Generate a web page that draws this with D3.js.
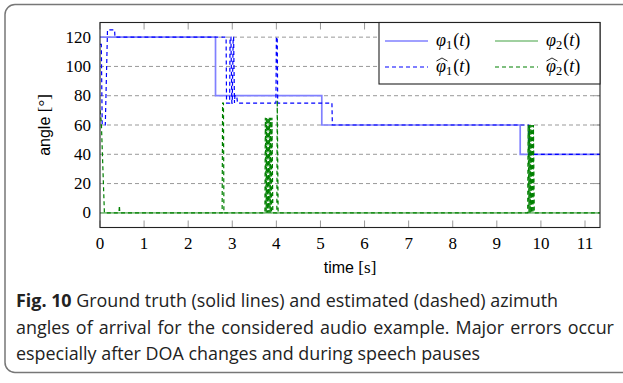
<!DOCTYPE html>
<html>
<head>
<meta charset="utf-8">
<script src="https://cdn.jsdelivr.net/npm/d3@7"></script>
<style>
  body { margin: 0; background: #fff; }
  svg { display: block; }
  .serif { font-family: 'Liberation Serif', serif; }
</style>
</head>
<body>
<svg></svg>
<script>
const timeTicks = [0, 1, 2, 3, 4, 5, 6, 7, 8, 9, 10, 11];
const angleTicks = [0, 20, 40, 60, 80, 100, 120];

// ground truth [time s, angle deg]
const phi1True = [[0, 120], [2.62, 120], [2.62, 80], [5.03, 80], [5.03, 60], [9.53, 60], [9.53, 40], [11.34, 40]];
const phi2True = [[0, 0], [11.34, 0]];

// estimates
const phi1Est = [[0, 115], [0.03, 115], [0.05, 60], [0.12, 60], [0.17, 125], [0.33, 125], [0.34, 120],
  [2.86, 120], [2.87, 75], [2.94, 75], [2.95, 120], [2.97, 120], [2.99, 75], [3.0, 75], [3.02, 120],
  [3.03, 120], [3.05, 75], [3.06, 80], [3.10, 80], [3.12, 75], [3.99, 75], [4.0, 120], [4.02, 120],
  [4.03, 75], [5.26, 75], [5.27, 60], [9.72, 60], [9.73, 40], [11.34, 40]];
const phi2Est = [[0, 70], [0.03, 62], [0.1, 0], [0.43, 0], [0.44, 5], [0.45, 0],
  [2.77, 0], [2.78, 75], [2.80, 75], [2.81, 0],
  [3.74, 0], [3.75, 65], [3.77, 0], [3.78, 65], [3.80, 0], [3.81, 65], [3.83, 0], [3.84, 65],
  [3.86, 0], [3.87, 65], [3.89, 0], [3.90, 65], [3.92, 0],
  [4.01, 0], [4.02, 77], [4.04, 0],
  [9.70, 0], [9.71, 60], [9.73, 0], [9.74, 60], [9.76, 0], [9.77, 60], [9.79, 0], [9.80, 60],
  [9.82, 0], [9.83, 60], [9.85, 0], [11.34, 0]];

const captionLines = [
  ["Fig. 10", " Ground truth (solid lines) and estimated (dashed) azimuth"],
  ["", "angles of arrival for the considered audio example. Major errors occur"],
  ["", "especially after DOA changes and during speech pauses"]
];

const svgWidth = 623, svgHeight = 383;
const margin = { top: 22.5, left: 100 };
const width = 500, height = 205;

const blueLight = "#8080ff", blue = "#0000ff", greenLight = "#80c080", green = "#008000";
const serif = "'Liberation Serif', serif";
const sans = "'Liberation Sans', sans-serif";

const svg = d3.select("svg")
    .attr("width", svgWidth)
    .attr("height", svgHeight);

// figure frame
svg.append("rect")
    .attr("x", 5).attr("y", 4.5)
    .attr("width", 660).attr("height", 368)
    .attr("rx", 10)
    .attr("fill", "#fff")
    .attr("stroke", "#777")
    .attr("stroke-width", 1.5);

const g = svg.append("g")
    .attr("transform", "translate(" + margin.left + "," + margin.top + ")");

const x = d3.scaleLinear().domain([0, 11.34]).range([0, width]);
const y = d3.scaleLinear().domain([-10, 130]).range([height, 0]);

g.append("clipPath").attr("id", "clip")
  .append("rect").attr("width", width).attr("height", height);

// grid
g.append("g")
  .selectAll("line")
  .data(angleTicks)
  .join("line")
    .attr("x1", 0).attr("x2", width)
    .attr("y1", d => y(d)).attr("y2", d => y(d))
    .attr("stroke", "#999")
    .attr("stroke-dasharray", "4,3");

// ticks (inward)
const tickLen = 7;
const tickStyle = sel => sel.attr("stroke", "#999").attr("stroke-width", 1);
g.append("g").selectAll("line").data(timeTicks).join("line")
    .attr("x1", d => x(d)).attr("x2", d => x(d))
    .attr("y1", height).attr("y2", height - tickLen).call(tickStyle);
g.append("g").selectAll("line").data(timeTicks).join("line")
    .attr("x1", d => x(d)).attr("x2", d => x(d))
    .attr("y1", 0).attr("y2", tickLen).call(tickStyle);
g.append("g").selectAll("line").data(angleTicks).join("line")
    .attr("x1", width - tickLen).attr("x2", width)
    .attr("y1", d => y(d)).attr("y2", d => y(d)).call(tickStyle);

// tick labels
g.append("g").attr("class", "serif").style("font-size", "17px")
  .selectAll("text").data(timeTicks).join("text")
    .attr("class", "serif")
    .attr("x", d => x(d)).attr("y", height + 21)
    .attr("text-anchor", "middle")
    .text(d => String(d));
g.append("g").attr("class", "serif").style("font-size", "17px")
  .selectAll("text").data(angleTicks).join("text")
    .attr("class", "serif")
    .attr("x", -9).attr("y", d => y(d) + 5.5)
    .attr("text-anchor", "end")
    .text(d => String(d));

const line = d3.line()
    .x(d => x(d[0]))
    .y(d => y(d[1]));

const plot = g.append("g").attr("clip-path", "url(#clip)");
const series = [
  { data: phi1True, color: blueLight, width: 1.7, dash: null },
  { data: phi2True, color: greenLight, width: 1.7, dash: null },
  { data: phi1Est, color: blue, width: 1.2, dash: "4,3" },
  { data: phi2Est, color: green, width: 1.2, dash: "4,3" }
];
series.forEach(s => {
  plot.append("path")
      .datum(s.data)
      .attr("fill", "none")
      .attr("stroke", s.color)
      .attr("stroke-width", s.width)
      .attr("stroke-dasharray", s.dash)
      .attr("d", line);
});

// axis box
g.append("rect")
    .attr("width", width).attr("height", height)
    .attr("fill", "none").attr("stroke", "#222").attr("stroke-width", 1.1);

// axis labels
const yl = svg.append("text")
    .attr("transform", "translate(50," + (margin.top + height / 2) + ") rotate(-90)")
    .attr("text-anchor", "middle");
yl.append("tspan").style("font-family", sans).style("font-size", "16px").text("angle ");
yl.append("tspan").style("font-family", serif).style("font-size", "17px").text("[°]");

const xl = svg.append("text")
    .attr("x", margin.left + width / 2).attr("y", 273)
    .attr("text-anchor", "middle");
xl.append("tspan").style("font-family", sans).style("font-size", "16px").text("time ");
xl.append("tspan").style("font-family", serif).style("font-size", "17px").text("[s]");

// legend
const lg = svg.append("g");
lg.append("rect")
    .attr("x", 379).attr("y", margin.top)
    .attr("width", 600 - 379).attr("height", 61.5)
    .attr("fill", "#fff").attr("stroke", "#222").attr("stroke-width", 1.1);

const legendItems = [
  { sub: "1", hat: false, color: blueLight, w: 1.7, dash: null, lx: 385, ly: 41 },
  { sub: "2", hat: false, color: greenLight, w: 1.7, dash: null, lx: 495, ly: 41 },
  { sub: "1", hat: true, color: blue, w: 1.2, dash: "4,3", lx: 385, ly: 67 },
  { sub: "2", hat: true, color: green, w: 1.2, dash: "4,3", lx: 495, ly: 67 }
];
legendItems.forEach(d => {
  lg.append("line")
      .attr("x1", d.lx).attr("x2", d.lx + 43)
      .attr("y1", d.ly).attr("y2", d.ly)
      .attr("stroke", d.color).attr("stroke-width", d.w)
      .attr("stroke-dasharray", d.dash);
  const t = lg.append("text")
      .attr("x", d.lx + 51).attr("y", d.ly + 5)
      .style("font-family", serif).style("font-size", "18px");
  t.append("tspan").style("font-style", "italic").text("\u03c6");
  t.append("tspan").style("font-size", "12.5px").attr("dy", 3).text(d.sub);
  t.append("tspan").attr("dy", -3).attr("dx", 1).text("(");
  t.append("tspan").style("font-style", "italic").text("t");
  t.append("tspan").text(")");
  if (d.hat) {
    const b = t.node().getExtentOfChar(0);
    const x0 = b.x + 0.5, x1 = b.x + b.width + 1.5, top = d.ly - 9;
    lg.append("path")
        .attr("d", "M" + x0 + "," + (top + 3) + "L" + ((x0 + x1) / 2) + "," + top + "L" + x1 + "," + (top + 3))
        .attr("fill", "none").attr("stroke", "#111").attr("stroke-width", 0.9);
  }
});

// caption
const cap = svg.append("g")
    .style("font-family", "'Open Sans', sans-serif")
    .style("font-size", "17.9px")
    .attr("fill", "#222");
captionLines.forEach((l, i) => {
  const t = cap.append("text").attr("x", 16).attr("y", 307 + i * 26.5);
  if (i === 1) t.style("word-spacing", "1.5px");
  if (l[0]) t.append("tspan").style("font-weight", "bold").text(l[0]);
  t.append("tspan").text(l[1]);
});
</script>
</body>
</html>
